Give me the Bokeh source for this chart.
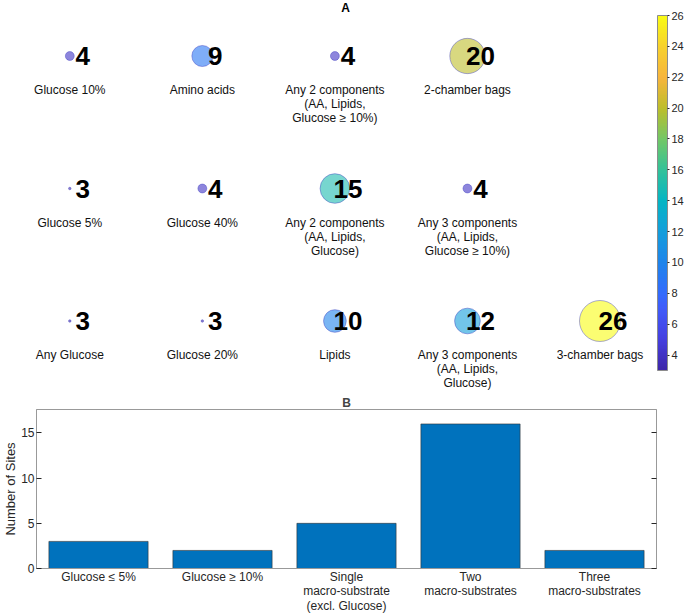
import numpy as np
from bokeh.plotting import figure
from bokeh.models import (ColumnDataSource, Range1d, FactorRange, LinearColorMapper,
                          ColorBar, FixedTicker, LinearAxis, CustomJSTickFormatter)
from bokeh.layouts import column
from bokeh.core.properties import value
from bokeh.transform import linear_cmap
from bokeh.embed import file_html
from bokeh.resources import INLINE

# ---------------- data ----------------
grid_labels = [
    "Glucose 10%", "Amino acids", "Any 2 components\n(AA, Lipids,\nGlucose \u2265 10%)", "2-chamber bags",
    "Glucose 5%", "Glucose 40%", "Any 2 components\n(AA, Lipids,\nGlucose)",
    "Any 3 components\n(AA, Lipids,\nGlucose \u2265 10%)",
    "Any Glucose", "Glucose 20%", "Lipids", "Any 3 components\n(AA, Lipids,\nGlucose)", "3-chamber bags",
]
grid_counts = [4, 9, 4, 20, 3, 4, 15, 4, 3, 3, 10, 12, 26]
grid_cols = [1, 2, 3, 4, 1, 2, 3, 4, 1, 2, 3, 4, 5]
grid_rows = [3, 3, 3, 3, 2, 2, 2, 2, 1, 1, 1, 1, 1]
cbar_ticks = [4, 6, 8, 10, 12, 14, 16, 18, 20, 22, 24, 26]

bar_categories = ["Glucose \u2264 5%", "Glucose \u2265 10%",
                  "Single\nmacro-substrate\n(excl. Glucose)",
                  "Two\nmacro-substrates", "Three\nmacro-substrates"]
bar_values = [3, 2, 5, 16, 2]
bar_yticks = [0, 5, 10, 15]

FONT = value("Liberation Sans")
FONT_NAME = "Liberation Sans"

# parula-like colormap anchors (position, r, g, b), interpolated to 256 colours
parula_anchors = [
    (0.000, 0.242, 0.150, 0.660),
    (0.087, 0.270, 0.250, 0.880),
    (0.174, 0.250, 0.360, 0.980),
    (0.217, 0.200, 0.420, 0.990),
    (0.304, 0.120, 0.520, 0.920),
    (0.391, 0.080, 0.620, 0.860),
    (0.478, 0.020, 0.710, 0.770),
    (0.565, 0.200, 0.760, 0.600),
    (0.652, 0.450, 0.780, 0.400),
    (0.739, 0.740, 0.745, 0.170),
    (0.826, 0.970, 0.710, 0.240),
    (0.913, 0.970, 0.820, 0.180),
    (1.000, 0.977, 0.984, 0.080),
]
_a = np.array(parula_anchors)
_t256 = np.linspace(0, 1, 256)
parula = ["#%02x%02x%02x" % tuple(int(round(255 * np.interp(t, _a[:, 0], _a[:, k]))) for k in (1, 2, 3))
          for t in _t256]

# ---------------- panel A ----------------
cmin, cmax = min(grid_counts), max(grid_counts)
dmin, dmax = 2.5, 41.0
sizes = [float(np.sqrt(dmin ** 2 + (dmax ** 2 - dmin ** 2) * (c - cmin) / (cmax - cmin))) for c in grid_counts]

src = ColumnDataSource(dict(x=grid_cols, y=grid_rows, count=grid_counts,
                            num=[str(c) for c in grid_counts], label=grid_labels, size=sizes))

mapper = LinearColorMapper(palette=parula, low=cmin, high=cmax)

pA = figure(width=685, height=393, output_backend="svg", toolbar_location=None,
            x_range=Range1d(0.4772, 5.6451), y_range=Range1d(0.4528, 3.4189),
            min_border_left=0, min_border_right=0, min_border_top=0, min_border_bottom=0)
pA.frame_align = False
pA.axis.visible = False
pA.grid.visible = False
pA.outline_line_color = None

pA.scatter("x", "y", source=src, size="size",
           fill_color=linear_cmap("count", parula, cmin, cmax), fill_alpha=0.6,
           line_color="#4040c0", line_alpha=0.55, line_width=0.8)
pA.text("x", "y", text="num", source=src, x_offset=13, text_align="center", text_baseline="middle",
        text_font=FONT, text_font_size="26px", text_font_style="bold", text_color="black")
pA.text("x", "y", text="label", source=src, y_offset=27, text_align="center", text_baseline="top",
        text_font=FONT, text_font_size="12px", text_color="#111111", text_line_height=1.0)
pA.text(x=[3.08], y=[3.4189], text=["A"], text_align="center", text_baseline="top",
        text_font=FONT, text_font_size="12px", text_font_style="bold", text_color="black")

cb = ColorBar(color_mapper=mapper, ticker=FixedTicker(ticks=cbar_ticks), width=10, height=355,
              location=(657, 23), padding=0, margin=0,
              major_label_text_font=FONT_NAME, major_label_text_font_size="11px",
              major_label_text_color="#262626",
              label_standoff=2, major_tick_in=0, major_tick_out=2, major_tick_line_color="#262626",
              bar_line_color="#8c8c8c", border_line_color=None, background_fill_alpha=0)
pA.add_layout(cb)

# ---------------- panel B ----------------
pB = figure(width=685, height=222, output_backend="svg", toolbar_location=None,
            x_range=FactorRange(factors=bar_categories), y_range=Range1d(0, 17.6),
            title="B", min_border_left=34, min_border_right=29, min_border_top=0, min_border_bottom=0)
pB.frame_align = False
pB.title.align = "center"
pB.title.text_font = FONT_NAME
pB.title.text_font_size = "12px"
pB.title.text_font_style = "bold"
pB.title.standoff = 0

pB.vbar(x=bar_categories, top=bar_values, width=0.8, fill_color="#0072BD",
        line_color="#333333", line_width=0.6)

pB.grid.visible = False
pB.outline_line_color = "#999999"

for ax in pB.axis:
    ax.axis_line_color = "#999999"
    ax.major_label_text_font = FONT_NAME
    ax.major_label_text_font_size = "12px"
    ax.major_label_text_color = "#262626"

pB.yaxis.ticker = FixedTicker(ticks=bar_yticks)
pB.yaxis.major_tick_in = 5
pB.yaxis.major_tick_out = 0
pB.yaxis.major_tick_line_color = "#262626"
pB.yaxis.minor_tick_line_color = None
pB.yaxis.major_label_standoff = 2
pB.yaxis.axis_label = "Number of Sites"
pB.yaxis.axis_label_standoff = 0
pB.yaxis.axis_label_text_font = FONT_NAME
pB.yaxis.axis_label_text_font_size = "13px"
pB.yaxis.axis_label_text_font_style = "normal"
pB.yaxis.axis_label_text_color = "#262626"

pB.xaxis.major_tick_line_color = None
pB.xaxis.major_label_standoff = -5
pB.xaxis.major_label_text_line_height = 1.05

right_ax = LinearAxis(ticker=FixedTicker(ticks=bar_yticks), major_tick_in=5, major_tick_out=0,
                      minor_tick_line_color=None,
                      formatter=CustomJSTickFormatter(code="return ''"),
                      major_label_standoff=0, axis_line_color="#999999", major_tick_line_color="#262626")
pB.add_layout(right_ax, "right")

layout = column(pA, pB)
open("out.html", "w").write(file_html(layout, INLINE))
